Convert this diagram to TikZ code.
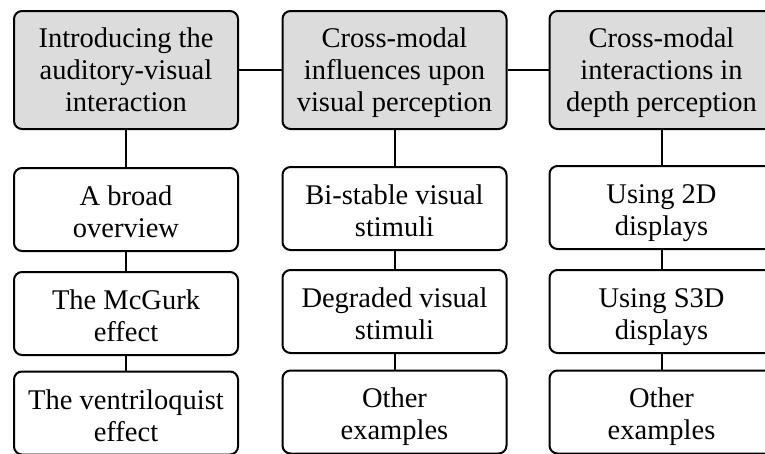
\documentclass[tikz,border=0pt]{standalone}
\usepackage{fontspec}
\setmainfont{Liberation Serif}
% struts fixing the first-line height and last-line depth of the box texts
\newcommand\headtop{\rule{0pt}{25pt}}
\newcommand\headbot{\rule[-5.6pt]{0pt}{5.6pt}}
\newcommand\subtop{\rule{0pt}{30pt}}
\newcommand\subbot{\rule[-5.3pt]{0pt}{5.3pt}}
\begin{document}
\begin{tikzpicture}[x=1pt,y=-1pt,
  box/.style={draw=black,line width=2pt,rounded corners=8pt,inner sep=0pt,
    minimum width=224pt,align=center,
    font=\fontsize{28.5}{32}\selectfont},
  headbox/.style={box,fill=headgray,minimum height=118pt},
  subbox/.style={box,fill=white,minimum height=83pt},
  link/.style={line width=2pt}]
\definecolor{headgray}{HTML}{DCDCDC}
\useasboundingbox (0,0) rectangle (765,453);
\clip (0,0) rectangle (765,453);
\fill[white] (0,0) rectangle (765,453);

% column heads
\node[headbox] (h1) at (126,70)   {\headtop Introducing the\\auditory-visual\\interaction\headbot};
\node[headbox] (h2) at (394.5,70) {\headtop Cross-modal\\influences upon\\visual perception\headbot};
\node[headbox] (h3) at (661.5,70) {\headtop Cross-modal\\interactions in\\depth perception\headbot};

% first column
\node[subbox] (a1) at (126,209.5) {\subtop A broad\\overview\subbot};
\node[subbox] (a2) at (126,313.5) {\subtop The McGurk\\effect\subbot};
\node[subbox] (a3) at (126,413)   {\subtop The ventriloquist\\effect\subbot};

% second column
\node[subbox] (b1) at (394.5,208.5) {\subtop Bi-stable visual\\stimuli\subbot};
\node[subbox] (b2) at (394.5,311.5) {\subtop Degraded visual\\stimuli\subbot};
\node[subbox] (b3) at (394.5,412)   {\subtop Other\\examples\subbot};

% third column
\node[subbox] (c1) at (661.5,207.5) {\subtop Using 2D\\displays\subbot};
\node[subbox] (c2) at (661.5,311.5) {\subtop Using S3D\\displays\subbot};
\node[subbox] (c3) at (661.5,412)   {\subtop Other\\examples\subbot};

% connectors
\draw[link] (h1.east) -- (h2.west);
\draw[link] (h2.east) -- (h3.west);
\draw[link] (h1.south) -- (a1.north);
\draw[link] (a1.south) -- (a2.north);
\draw[link] (a2.south) -- (a3.north);
\draw[link] (h2.south) -- (b1.north);
\draw[link] (b1.south) -- (b2.north);
\draw[link] (b2.south) -- (b3.north);
\draw[link] (h3.south) -- (c1.north);
\draw[link] (c1.south) -- (c2.north);
\draw[link] (c2.south) -- (c3.north);
\end{tikzpicture}
\end{document}
